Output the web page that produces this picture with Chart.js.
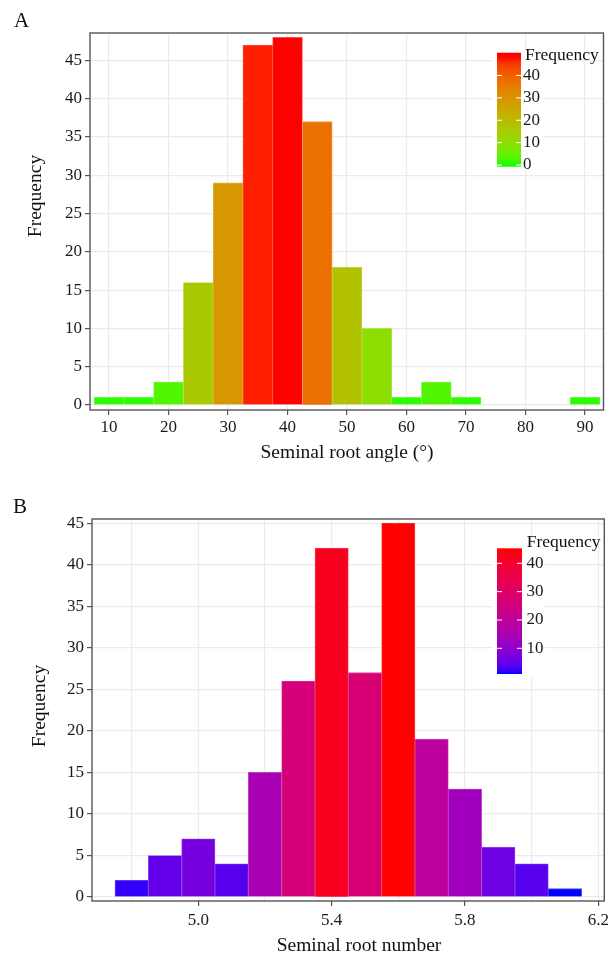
<!DOCTYPE html>
<html>
<head>
<meta charset="utf-8">
<title>Seminal root histograms</title>
<script src="https://cdn.jsdelivr.net/npm/chart.js@4.4.1/dist/chart.umd.min.js"></script>
<style>
  html, body { margin: 0; padding: 0; background: #fff; }
  #wrap { position: relative; width: 613px; height: 953px; }
  canvas { position: absolute; left: 0; }
  #chartA { top: 0; }
  #chartB { top: 470px; }
</style>
</head>
<body>
<div id="wrap">
  <canvas id="chartA" width="613" height="470"></canvas>
  <canvas id="chartB" width="613" height="483"></canvas>
</div>
<script>
// Panel A - seminal root angle, bins of 5 degrees
const angleBins = [10, 15, 20, 25, 30, 35, 40, 45, 50, 55, 60, 65, 70, 75, 80, 85, 90];
const angleCounts = [1, 1, 3, 16, 29, 47, 48, 37, 18, 10, 1, 3, 1, 0, 0, 0, 1];
const angleTicks = [10, 20, 30, 40, 50, 60, 70, 80, 90];
const angleFreqTicks = [0, 5, 10, 15, 20, 25, 30, 35, 40, 45];
const angleLegendBreaks = [0, 10, 20, 30, 40];

// Panel B - seminal root number, bins of 0.1
const numberBins = [4.8, 4.9, 5.0, 5.1, 5.2, 5.3, 5.4, 5.5, 5.6, 5.7, 5.8, 5.9, 6.0, 6.1];
const numberCounts = [2, 5, 7, 4, 15, 26, 42, 27, 45, 19, 13, 6, 4, 1];
const numberGrid = [4.8, 5.0, 5.2, 5.4, 5.6, 5.8, 6.0, 6.2];
const numberTicks = [5.0, 5.4, 5.8, 6.2];
const numberFreqTicks = [0, 5, 10, 15, 20, 25, 30, 35, 40, 45];
const numberLegendBreaks = [10, 20, 30, 40];

const SERIF = '"Liberation Serif", "DejaVu Serif", serif';

// --- colour ramp, interpolated in CIELAB like ggplot's gradient scale ---
function hexToRgb(h) {
    return [1, 3, 5].map(i => parseInt(h.slice(i, i + 2), 16));
}
function rgbToLab(rgb) {
    const lin = rgb.map(c => {
        c /= 255;
        return c <= 0.04045 ? c / 12.92 : Math.pow((c + 0.055) / 1.055, 2.4);
    });
    const [r, g, b] = lin;
    const X = (0.4124564 * r + 0.3575761 * g + 0.1804375 * b) / 0.95047;
    const Y = (0.2126729 * r + 0.7151522 * g + 0.0721750 * b);
    const Z = (0.0193339 * r + 0.1191920 * g + 0.9503041 * b) / 1.08883;
    const f = t => t > 0.008856 ? Math.cbrt(t) : 7.787 * t + 16 / 116;
    const fx = f(X), fy = f(Y), fz = f(Z);
    return [116 * fy - 16, 500 * (fx - fy), 200 * (fy - fz)];
}
function labToRgb([L, a, bb]) {
    const fy = (L + 16) / 116, fx = fy + a / 500, fz = fy - bb / 200;
    const inv = t => t * t * t > 0.008856 ? t * t * t : (t - 16 / 116) / 7.787;
    const X = inv(fx) * 0.95047, Y = inv(fy), Z = inv(fz) * 1.08883;
    const r = 3.2404542 * X - 1.5371385 * Y - 0.4985314 * Z;
    const g = -0.9692660 * X + 1.8760108 * Y + 0.0415560 * Z;
    const b = 0.0556434 * X - 0.2040259 * Y + 1.0572252 * Z;
    return [r, g, b].map(c => {
        c = c <= 0.0031308 ? 12.92 * c : 1.055 * Math.pow(c, 1 / 2.4) - 0.055;
        return Math.round(Math.min(1, Math.max(0, c)) * 255);
    });
}
function makeRamp(low, high, vmin, vmax) {
    const a = rgbToLab(hexToRgb(low)), b = rgbToLab(hexToRgb(high));
    const ramp = (v, mixWhite = 0) => {
        const t = Math.min(1, Math.max(0, (v - vmin) / (vmax - vmin)));
        const rgb = labToRgb(a.map((x, i) => x + (b[i] - x) * t))
            .map(ch => Math.round(ch + (255 - ch) * mixWhite));
        return `rgb(${rgb[0]},${rgb[1]},${rgb[2]})`;
    };
    return ramp;
}

// --- frame, titles and colourbar drawn on top of the chart ---
const decorPlugin = {
    id: 'decor',
    afterDraw(chart, args, o) {
        const c = chart.ctx;
        const area = chart.chartArea;
        c.save();

        // colourbar legend
        const lg = o.legend;
        c.fillStyle = '#fff';
        c.fillRect(lg.box[0], lg.box[1], lg.box[2], lg.box[3]);
        const valueAt = y => lg.v0 + (lg.y0 - y) / lg.px;
        const grad = c.createLinearGradient(0, lg.bottom, 0, lg.top);
        for (let i = 0; i <= 40; i++) {
            const y = lg.bottom + (lg.top - lg.bottom) * i / 40;
            grad.addColorStop(i / 40, o.ramp(valueAt(y)));
        }
        c.fillStyle = grad;
        c.fillRect(lg.x, lg.top, lg.w, lg.bottom - lg.top);
        c.strokeStyle = '#fff';
        c.lineWidth = 1;
        c.font = `17px ${SERIF}`;
        c.fillStyle = '#1a1a1a';
        c.textAlign = 'left';
        c.textBaseline = 'middle';
        lg.breaks.forEach(v => {
            const y = lg.y0 - (v - lg.v0) * lg.px;
            c.beginPath();
            c.moveTo(lg.x, y); c.lineTo(lg.x + 5, y);
            c.moveTo(lg.x + lg.w - 5, y); c.lineTo(lg.x + lg.w, y);
            c.stroke();
            c.fillText(String(v), lg.labelX, y);
        });
        c.textBaseline = 'alphabetic';
        c.font = `17.5px ${SERIF}`;
        c.fillStyle = '#111';
        c.fillText('Frequency', lg.titleX, lg.titleY);

        // panel border
        c.strokeStyle = '#555';
        c.lineWidth = 1.4;
        c.strokeRect(area.left, area.top, area.right - area.left, area.bottom - area.top);

        // axis titles and panel letter
        c.fillStyle = '#111';
        c.font = `19.5px ${SERIF}`;
        c.textAlign = 'center';
        c.fillText(o.xTitle, o.xTitlePos[0], o.xTitlePos[1]);
        c.save();
        c.translate(o.yTitlePos[0], o.yTitlePos[1]);
        c.rotate(-Math.PI / 2);
        c.textBaseline = 'middle';
        c.fillText('Frequency', 0, 0);
        c.restore();
        c.textAlign = 'left';
        c.font = `21px ${SERIF}`;
        c.fillText(o.letter, o.letterPos[0], o.letterPos[1]);
        c.restore();
    }
};

function buildHistogram(canvasId, cfg) {
    const ramp = makeRamp(cfg.low, cfg.high, Math.min(...cfg.counts), Math.max(...cfg.counts));
    const isLabel = v => cfg.xLabels.some(t => Math.abs(t - v) < 1e-6);
    const tickFont = { family: SERIF, size: 17 };
    const none = 'rgba(0,0,0,0)';

    return new Chart(document.getElementById(canvasId), {
        type: 'bar',
        data: {
            datasets: [{
                data: cfg.bins.map((b, i) => ({ x: b, y: cfg.counts[i] })),
                // empty bins have no visible bar
                backgroundColor: cfg.counts.map(v => v > 0 ? ramp(v) : none),
                borderColor: cfg.counts.map(v => v > 0 ? ramp(v, 0.3) : none),
                borderWidth: 0.8,
                barPercentage: 1,
                categoryPercentage: 1
            }]
        },
        options: {
            responsive: false,
            animation: false,
            devicePixelRatio: 1,
            layout: { padding: cfg.padding },
            plugins: {
                legend: { display: false },
                tooltip: { enabled: false },
                decor: {
                    ramp,
                    legend: cfg.legend,
                    letter: cfg.letter,
                    letterPos: cfg.letterPos,
                    xTitle: cfg.xTitle,
                    xTitlePos: cfg.xTitlePos,
                    yTitlePos: cfg.yTitlePos
                }
            },
            scales: {
                x: {
                    type: 'linear',
                    min: cfg.xMin,
                    max: cfg.xMax,
                    offset: false,
                    afterBuildTicks: s => { s.ticks = cfg.xGrid.map(v => ({ value: v })); },
                    afterFit: s => { s.height = cfg.xHeight; },
                    ticks: {
                        font: tickFont,
                        color: '#1a1a1a',
                        padding: cfg.xTickPad,
                        maxRotation: 0,
                        autoSkip: false,
                        callback: v => isLabel(v) ? cfg.xFormat(v) : ''
                    },
                    grid: {
                        offset: false,
                        color: '#EBEBEB',
                        lineWidth: 1.2,
                        tickLength: 5,
                        tickColor: ctx => (ctx.tick && isLabel(ctx.tick.value)) ? '#555' : none,
                        tickWidth: 1.2
                    },
                    border: { display: false }
                },
                y: {
                    min: cfg.yMin,
                    max: cfg.yMax,
                    afterBuildTicks: s => { s.ticks = cfg.yTicks.map(v => ({ value: v })); },
                    afterFit: s => { s.width = cfg.yWidth; },
                    ticks: { font: tickFont, color: '#1a1a1a', padding: 3 },
                    grid: {
                        color: '#EBEBEB',
                        lineWidth: 1.2,
                        tickLength: 5,
                        tickColor: '#555',
                        tickWidth: 1.2
                    },
                    border: { display: false }
                }
            }
        },
        plugins: [decorPlugin]
    });
}

buildHistogram('chartA', {
    bins: angleBins,
    counts: angleCounts,
    low: '#00FF00',
    high: '#FF0000',
    xMin: 6.8, xMax: 93.1,
    yMin: -0.65, yMax: 48.58,
    xGrid: angleTicks,
    xLabels: angleTicks,
    xFormat: v => String(Math.round(v)),
    yTicks: angleFreqTicks,
    padding: { left: 0, top: 33, right: 9.5, bottom: 0 },
    yWidth: 90,
    xHeight: 60,
    xTickPad: 2,
    letter: 'A', letterPos: [14, 26.5],
    xTitle: 'Seminal root angle (°)', xTitlePos: [347, 457.5],
    yTitlePos: [36, 196],
    legend: {
        box: [493, 49, 51, 121],
        x: 497, w: 24, top: 52.7, bottom: 166.7,
        v0: 0, y0: 165, px: 2.2375,
        breaks: angleLegendBreaks,
        labelX: 523, titleX: 525, titleY: 60
    }
});

buildHistogram('chartB', {
    bins: numberBins,
    counts: numberCounts,
    low: '#0000FF',
    high: '#FF0000',
    xMin: 4.681, xMax: 6.218,
    yMin: -0.48, yMax: 45.5,
    xGrid: numberGrid,
    xLabels: numberTicks,
    xFormat: v => v.toFixed(1),
    yTicks: numberFreqTicks,
    padding: { left: 0, top: 49, right: 7, bottom: 0 },
    yWidth: 92,
    xHeight: 52,
    xTickPad: 4,
    letter: 'B', letterPos: [13, 43.3],
    xTitle: 'Seminal root number', xTitlePos: [359, 481],
    yTitlePos: [40, 236],
    legend: {
        box: [493, 75, 52, 133],
        x: 497, w: 25, top: 78.3, bottom: 204,
        v0: 10, y0: 178.3, px: 2.833,
        breaks: numberLegendBreaks,
        labelX: 526.5, titleX: 526.7, titleY: 76.7
    }
});
</script>
</body>
</html>
